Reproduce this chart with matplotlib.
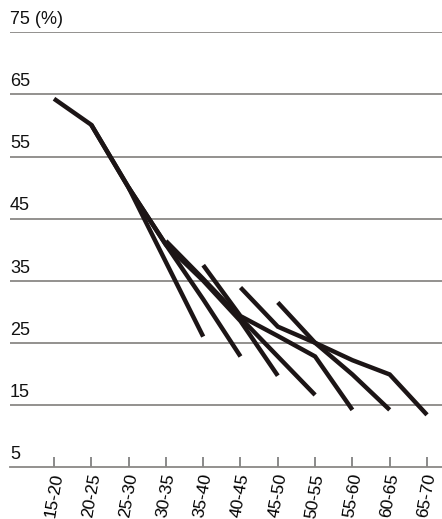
import matplotlib.pyplot as plt
import matplotlib.transforms as mtransforms

plt.rcParams['font.family'] = ['Liberation Sans', 'DejaVu Sans']

# age groups
ages = ['15-20', '20-25', '25-30', '30-35', '35-40', '40-45',
        '45-50', '50-55', '55-60', '60-65', '65-70']

# each line: index of first age group, values (%)
line0_start, line0 = 0, [64.3, 60.1, 50.0, 38.0, 26.0]
line1_start, line1 = 1, [60.1, 50.0, 40.8, 32.0, 22.8]
line2_start, line2 = 2, [50.0, 40.8, 35.0, 28.5, 19.7]
line3_start, line3 = 3, [41.4, 35.3, 29.0, 22.8, 16.6]
line4_start, line4 = 4, [37.5, 29.3, 26.1, 22.8, 14.2]
line5_start, line5 = 5, [33.9, 27.6, 25.0, 19.9, 14.2]
line6_start, line6 = 6, [31.5, 25.0, 22.2, 19.9, 13.4]

yticks = [15, 25, 35, 45, 55, 65, 75]
ylabels = ['15', '25', '35', '45', '55', '65', '75 (%)']

W, H = 442, 519
fig = plt.figure(figsize=(W / 100, H / 100), dpi=100)
ax = fig.add_axes([10 / W, 52 / H, 432 / W, 434.7 / H])

line_col = '#1c1516'
grid_col = '#8a8886'

lines = [(line0_start, line0), (line1_start, line1), (line2_start, line2),
         (line3_start, line3), (line4_start, line4), (line5_start, line5),
         (line6_start, line6)]
for start, vals in lines:
    xs = list(range(start, start + len(vals)))
    ax.plot(xs, vals, color=line_col, linewidth=3.2, solid_capstyle='butt',
            solid_joinstyle='miter', zorder=3, clip_on=False)

for v in yticks:
    ax.axhline(v, color=grid_col, linewidth=1.3, zorder=1)

trans = mtransforms.blended_transform_factory(ax.transAxes, ax.transData)
off = mtransforms.offset_copy(trans, fig=fig, x=0, y=3, units='points')
for v, lab in zip(yticks + [5], ylabels + ['5']):
    ax.text(0, v, lab, transform=off, ha='left', va='bottom', fontsize=13,
            color='#111111')

ax.set_xlim((10 - 54) / 37.3, (442 - 54) / 37.3)
ax.set_ylim(5, 75)
ax.set_xticks(range(len(ages)))
ax.set_xticklabels(ages, rotation=80, ha='center', va='top', fontsize=12.5)
ax.set_yticks([])
ax.tick_params(axis='x', direction='in', length=7, width=1.2, color='#777777',
               pad=4)
for s in ['top', 'right', 'left']:
    ax.spines[s].set_visible(False)
ax.spines['bottom'].set_color(grid_col)
ax.spines['bottom'].set_linewidth(1.3)

fig.savefig('out.png', dpi=100)
